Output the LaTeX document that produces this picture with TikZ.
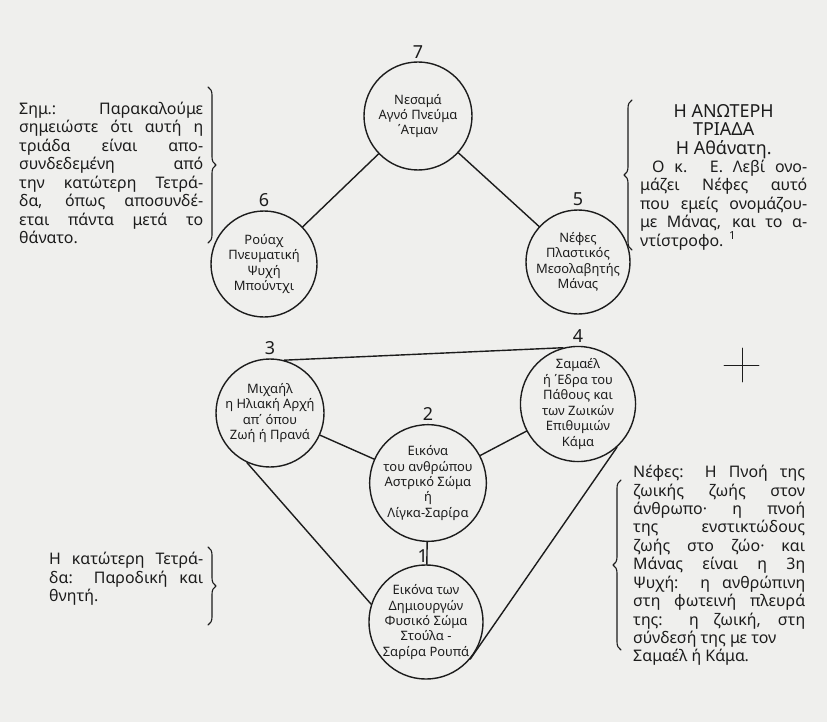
\documentclass[tikz,border=0pt]{standalone}
\usepackage{fontspec}
\setmainfont{Noto Sans}
\usepackage{xcolor}
\usepackage{tikz}
\usetikzlibrary{calc,positioning,decorations.pathreplacing}
\definecolor{paper}{HTML}{EFEFED}
\definecolor{ink}{HTML}{1C1C1C}
\hyphenpenalty=10000
\exhyphenpenalty=10000
\tolerance=10000
\tikzset{
  Sphere/.style={
    circle, draw=ink, line width=1.4bp, inner sep=0pt,
    minimum size=#1, align=center, text=ink,
    font=\fontsize{13}{15.5}\selectfont
  },
  Sphere/.default=108bp,
  SphereNum/.style={text=ink, inner sep=0pt, font=\fontsize{18}{18}\selectfont},
  Link/.style={draw=ink, line width=1.4bp},
  SideNote/.style={
    text=ink, text width=#1, align=justify, inner sep=0pt,
    anchor=north west, font=\fontsize{16}{18.5}\selectfont
  },
  Bracket/.style={
    draw=ink, line width=1.1bp, decorate,
    decoration={brace, amplitude=8bp}
  }
}

\begin{document}
\begin{tikzpicture}[x=1bp, y=-1bp, line cap=round, line join=round]
  \fill[paper] (0,0) rectangle (827,722);
  \useasboundingbox (0,0) rectangle (827,722);

  % the seven spheres
  \node[Sphere] (s7) at (418,116) {Νεσαμά\\Αγνό Πνεύμα\\΄Ατμαν};
  \node[Sphere=106bp] (s6) at (264,264) {Ρούαχ\\Πνευματική\\Ψυχή\\Μπούντχι};
  \node[Sphere=104bp] (s5) at (578,262) {Νέφες\\Πλαστικός\\Μεσολαβητής\\Μάνας};
  \node[Sphere] (s3) at (270,413) {Μιχαήλ\\η Ηλιακή Αρχή\\απ΄ όπου\\Ζωή ή Πρανά};
  \node[Sphere=106bp] (s4) at (578,404) {Σαμαέλ\\ή ΄Εδρα του\\Πάθους και\\των Ζωικών\\Επιθυμιών\\Κάμα};
  \node[Sphere=116bp] (s2) at (428,483) {Εικόνα\\του ανθρώπου\\Αστρικό Σώμα\\ή\\Λίγκα-Σαρίρα};
  \node[Sphere=112bp] (s1) at (426,622) {Εικόνα των\\Δημιουργών\\Φυσικό Σώμα\\Στούλα -\\Σαρίρα Ρουπά};

  \node[SphereNum, above=3bp of s7] (n7) {7};
  \node[SphereNum, above=3bp of s6] (n6) {6};
  \node[SphereNum, above=3bp of s5] (n5) {5};
  \node[SphereNum, above=3bp of s3] (n3) {3};
  \node[SphereNum, above=3bp of s4] (n4) {4};
  \node[SphereNum, above=3bp of s2] (n2) {2};
  \node[SphereNum, above left=2bp and -2bp of s1.north] (n1) {1};

  % connections
  \draw[Link] (s7) -- (s6);
  \draw[Link] (s7) -- (s5);
  \draw[Link] (s3.75) -- (s4.105);
  \draw[Link] (s3) -- (s2);
  \draw[Link] (s2) -- (s4);
  \draw[Link] (s2) -- (s1);
  \draw[Link] (s3.245) -- (s1.162);
  \draw[Link] (s4.-48) -- (s1.-40);

  % notes and braces
  \node[SideNote=184bp] (upnote) at (19,102) {%
    Σημ.: Παρακαλούμε\linebreak
    σημειώστε ότι αυτή η\linebreak
    τριάδα είναι απο-\linebreak
    συνδεδεμένη από\linebreak
    την κατώτερη Τετρά-\linebreak
    δα, όπως αποσυνδέ-\linebreak
    εται πάντα μετά το\linebreak
    θάνατο.};
  \draw[Bracket] (208,87) -- (208,243);

  \node[SideNote=167bp] (triad) at (640,104) {%
    {\centering\fontsize{18}{18.5}\selectfont
    Η ΑΝΩΤΕΡΗ\\ΤΡΙΑΔΑ\\Η Αθάνατη.\par}
    \hspace*{12bp}Ο κ. Ε. Λεβί ονο-\linebreak
    μάζει Νέφες αυτό\linebreak
    που εμείς ονομάζου-\linebreak
    με Μάνας, και το α-\linebreak
    ντίστροφο. \textsuperscript{1}};
  \draw[Bracket] (632,250) -- (632,100);

  \node[SideNote=172bp] (breath) at (633,465) {%
    Νέφες: Η Πνοή της\linebreak
    ζωικής ζωής στον\linebreak
    άνθρωπο· η πνοή\linebreak
    της ενστικτώδους\linebreak
    ζωής στο ζώο· και\linebreak
    Μάνας είναι η 3η\linebreak
    Ψυχή: η ανθρώπινη\linebreak
    στη φωτεινή πλευρά\linebreak
    της: η ζωική, στη\linebreak
    σύνδεσή της με τον\newline
    Σαμαέλ ή Κάμα.};
  \draw[Bracket] (621,650) -- (621,480);

  \node[SideNote=154bp] (lownote) at (49,552) {%
    Η κατώτερη Τετρά-\linebreak
    δα: Παροδική και\linebreak
    θνητή.};
  \draw[Bracket] (208,547) -- (208,625);

  % registration mark
  \coordinate (mark) at (742,365);
  \draw[ink, line width=0.8bp] ([xshift=-18bp]mark) -- ([xshift=17bp]mark)
    ([yshift=17bp]mark) -- ([yshift=-17bp]mark);
\end{tikzpicture}
\end{document}
